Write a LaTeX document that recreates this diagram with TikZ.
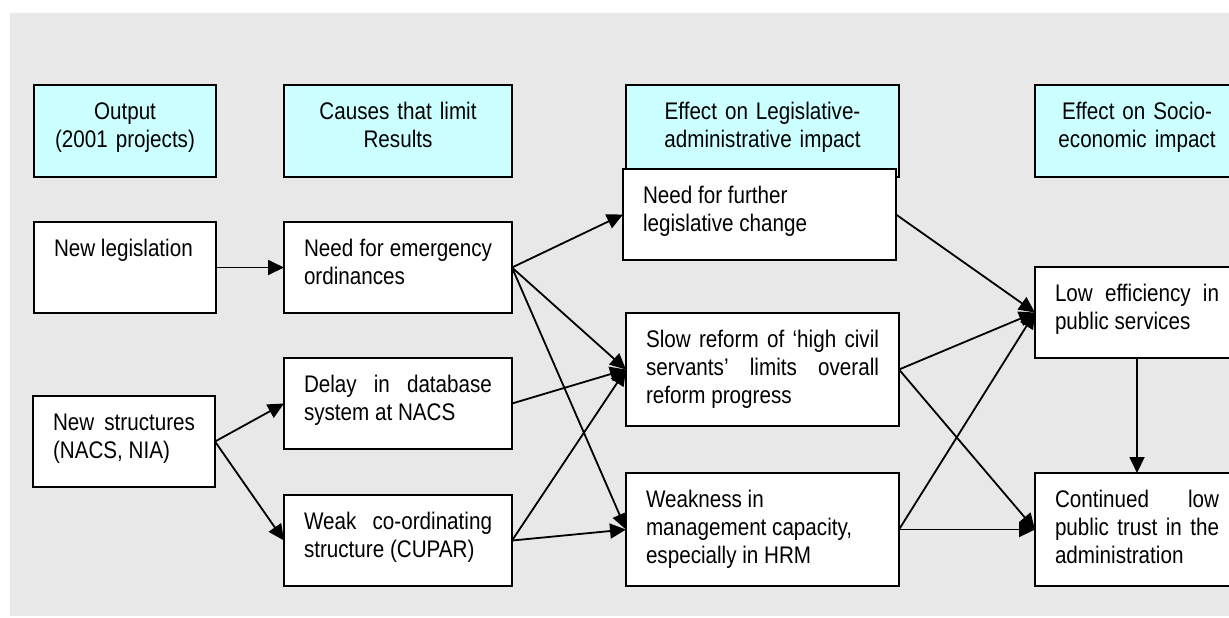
\documentclass[tikz,border=0pt]{standalone}
\usepackage{fontspec}
\setmainfont{Liberation Sans}[FakeStretch=0.86]
\usetikzlibrary{arrows.meta}
\definecolor{bggrey}{RGB}{232,232,232}
\definecolor{headcyan}{RGB}{204,255,255}

\begin{document}
\begin{tikzpicture}[x=0.5pt, y=-0.5pt,
    box/.style={draw, line width=1.1pt, fill=white, anchor=north west, outer sep=0pt,
        inner xsep=10pt, inner ysep=0pt, text height=17pt, text depth=28.5pt,
        align=justify, font=\fontsize{12}{14}\selectfont},
    head/.style={box, fill=headcyan, align=center, text depth=29pt},
    tall/.style={text depth=39.5pt},
    colA/.style={text width=71pt}, colB/.style={text width=94pt},
    colC/.style={text width=116.5pt}, colD/.style={text width=82pt},
    link/.style={-{Triangle[length=8pt,width=7.5pt]}, line width=0.9pt}]
    \useasboundingbox (0,0) rectangle (1229,617);
    \fill[bggrey] (10,13) rectangle (1245,616);
    % column headers
    \path (34,85) node[head, colA](hout){Output\\(2001 projects)}
        (284,85) node[head, colB](hcause){Causes that limit\\Results}
        (626,85) node[head, colC](hleg){Effect on Legislative-\\administrative impact}
        (1035,85) node[head, colD](hsoc){Effect on Socio-\\economic impact};
    % boxes
    \path (34,222) node[box, colA](newleg){New legislation}
        (33,396) node[box, colA](newstr){New structures\linebreak (NACS, NIA)}
        (284,222) node[box, colB](emerg){Need for emergency\linebreak ordinances}
        (284,358) node[box, colB](delay){Delay in database\linebreak system at NACS}
        (284,495) node[box, colB](coord){Weak co-ordinating\linebreak structure (CUPAR)}
        (623,169) node[box, colC](further){Need for further\\legislative change}
        (626,313) node[box, colC, tall](slow){Slow reform of ‘high civil\linebreak servants’ limits overall\linebreak reform progress}
        (626,473) node[box, colC, tall](weakness){Weakness in\\management capacity,\\especially in HRM}
        (1035,267) node[box, colD](loweff){Low efficiency in\linebreak public services}
        (1035,473) node[box, colD, tall](trust){Continued low\linebreak public trust in the\linebreak administration};
    \draw[link] (newleg.east) -- (emerg.west);
    \draw[link] (newstr.east) -- (delay.west);
    \draw[link] (newstr.east) -- (coord.west);
    \draw[link] (emerg.east) -- (further.west);
    \draw[link] (emerg.east) -- (slow.west);
    \draw[link] (emerg.east) -- (weakness.west);
    \draw[link] (delay.east) -- (slow.west);
    \draw[link] (coord.east) -- (slow.west);
    \draw[link] (coord.east) -- (weakness.west);
    \draw[link] (further.east) -- (loweff.west);
    \draw[link] (slow.east) -- (loweff.west);
    \draw[link] (slow.east) -- (trust.west);
    \draw[link] (weakness.east) -- (loweff.west);
    \draw[link] (weakness.east) -- (trust.west);
    \draw[link] (loweff.south) -- (trust.north);
\end{tikzpicture}
\end{document}
